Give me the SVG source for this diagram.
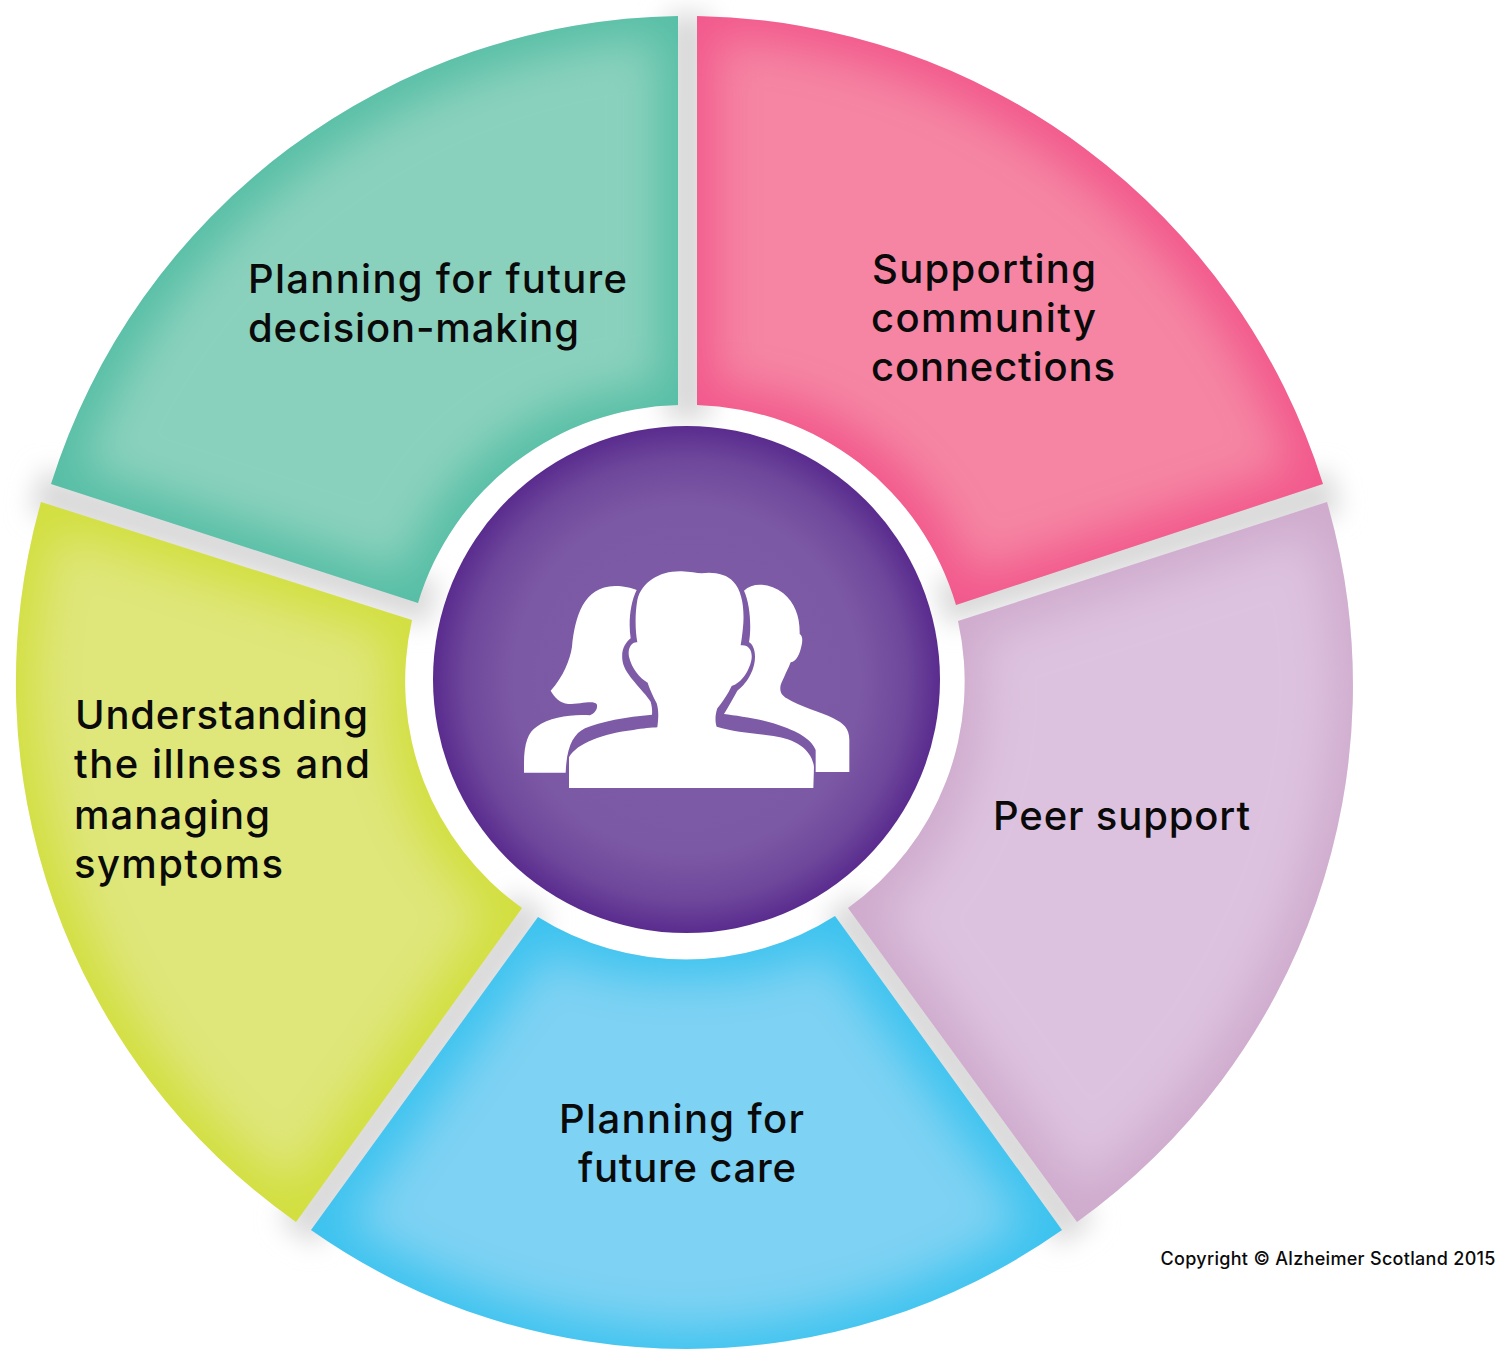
<svg xmlns="http://www.w3.org/2000/svg" width="1496" height="1350" viewBox="0 0 1496 1350">
<style>
.t{font-family:Inter,"Noto Sans","Liberation Sans",sans-serif;font-size:40px;font-weight:500;fill:#0a0a0a}
.c{font-family:Inter,"Noto Sans","Liberation Sans",sans-serif;font-size:18px;font-weight:500;fill:#0a0a0a}
.glow{filter:url(#inner)}
.gap{stroke:#d9d9d9;stroke-width:44;fill:none}
</style>
<defs>
<filter id="inner" filterUnits="userSpaceOnUse" x="0" y="0" width="1496" height="1350">
<feMorphology in="SourceGraphic" operator="erode" radius="18" result="e"/>
<feGaussianBlur in="e" stdDeviation="23" result="b"/>
<feComposite in="b" in2="SourceAlpha" operator="in"/>
</filter>
<filter id="soft" filterUnits="userSpaceOnUse" x="0" y="0" width="1496" height="1350">
<feGaussianBlur stdDeviation="13"/>
</filter>
<radialGradient id="hub" gradientUnits="userSpaceOnUse" cx="686.5" cy="679.5" r="254">
<stop offset="0" stop-color="#7E5CA6"/>
<stop offset="0.68" stop-color="#7C59A5"/>
<stop offset="0.87" stop-color="#6E479B"/>
<stop offset="1" stop-color="#592B8E"/>
</radialGradient>
<path id="s1" d="M678 16 L678 405 A278 278 0 0 0 418 603 L51 484 A668 668 0 0 1 678 16 Z"/>
<path id="s2" d="M697 16 A668 668 0 0 1 1323 484 L956 605 A278 278 0 0 0 697 405 Z"/>
<path id="s3" d="M1327 502 A660 660 0 0 1 1077 1222 L848 908 A278 278 0 0 0 958 621 Z"/>
<path id="s4" d="M1062 1230 A652 652 0 0 1 311 1230 L538 917 A278 278 0 0 0 835 916 Z"/>
<path id="s5" d="M296 1222 A660 660 0 0 1 41 502 L412 620 A278 278 0 0 0 522 908 Z"/>
</defs>
<rect width="1496" height="1350" fill="#fff"/>
<g id="connectors" filter="url(#soft)">
<path class="gap" d="M687.500 420 L687.500 14"/>
<path class="gap" d="M433 604 L36 491"/>
<path class="gap" d="M941 604 L1335 491"/>
<path class="gap" d="M532 905 L297 1233"/>
<path class="gap" d="M842 905 L1077 1233"/>
</g>
<g id="segment-decision-making">
<use href="#s1" fill="#56BEA5"/><use href="#s1" class="glow" fill="#8AD1BD"/>
<text class="t" x="248" y="293" textLength="379" lengthAdjust="spacing">Planning for future</text>
<text class="t" x="248" y="342" textLength="331" lengthAdjust="spacing">decision-making</text>
</g>
<g id="segment-community">
<use href="#s2" fill="#F2588C"/><use href="#s2" class="glow" fill="#F585A3"/>
<text class="t" x="872" y="283" textLength="224" lengthAdjust="spacing">Supporting</text>
<text class="t" x="871" y="332" textLength="225" lengthAdjust="spacing">community</text>
<text class="t" x="871" y="381" textLength="244" lengthAdjust="spacing">connections</text>
</g>
<g id="segment-peer">
<use href="#s3" fill="#CFABCD"/><use href="#s3" class="glow" fill="#DDC2DF"/>
<text class="t" x="993" y="830" textLength="257" lengthAdjust="spacing">Peer support</text>
</g>
<g id="segment-future-care">
<use href="#s4" fill="#3CC3EF"/><use href="#s4" class="glow" fill="#7ED2F3"/>
<text class="t" x="559" y="1133" textLength="245" lengthAdjust="spacing">Planning for</text>
<text class="t" x="578" y="1182" textLength="218" lengthAdjust="spacing">future care</text>
</g>
<g id="segment-understanding">
<use href="#s5" fill="#D2DF3E"/><use href="#s5" class="glow" fill="#DFE67A"/>
<text class="t" x="75" y="729" textLength="293" lengthAdjust="spacing">Understanding</text>
<text class="t" x="74" y="778" textLength="296" lengthAdjust="spacing">the illness and</text>
<text class="t" x="74" y="829" textLength="196" lengthAdjust="spacing">managing</text>
<text class="t" x="74" y="878" textLength="209" lengthAdjust="spacing">symptoms</text>
</g>
<g id="hub">
<circle cx="686.500" cy="679.500" r="253.500" fill="url(#hub)"/>
<g transform="translate(500 550) scale(.33333)" fill="#fff">
<path d="M152 422 C190 380 210 330 216 290 C225 200 250 110 345 108 C370 108 395 113 410 120 C390 160 385 220 392 265 C375 280 362 300 368 335 C375 375 430 420 452 455 C456 470 457 480 456 494 C380 500 300 515 255 535 C220 552 200 590 197 668 L72 668 L72 640 C72 580 85 545 110 530 C150 500 220 492 270 496 C285 490 295 475 290 462 C280 450 240 462 205 462 C180 460 162 440 152 422 Z"/>
<path d="M732 122 C760 95 810 100 850 130 C885 160 900 200 899 252 C908 258 908 270 905 285 C900 310 890 335 872 337 C865 355 850 385 842 405 C838 425 845 435 860 445 C900 470 960 485 1000 505 C1030 520 1048 535 1048 570 L1048 666 L947 666 L947 600 C930 560 880 540 820 520 C770 505 710 497 672 492 C685 470 700 445 712 422 C735 405 765 365 765 320 C765 295 755 280 747 277 C755 230 750 160 732 122 Z"/>
<path d="M207 714 L207 622 C230 580 310 550 400 540 C430 535 455 533 472 532 C476 500 476 480 470 460 C460 440 448 415 443 398 C420 385 395 355 387 320 C382 295 395 275 412 277 C405 240 405 190 412 150 C425 95 480 62 545 64 C570 65 590 70 605 70 C640 65 680 72 700 95 C725 120 733 170 730 220 C728 245 725 270 722 286 C745 283 757 300 755 325 C750 360 725 400 695 408 C685 430 665 460 652 475 C645 495 645 515 650 530 C700 545 760 550 820 558 C890 568 935 600 942 650 L940 714 Z"/>
</g>
</g>
<text id="copyright" class="c" x="1160.500" y="1265" textLength="335" lengthAdjust="spacing">Copyright © Alzheimer Scotland 2015</text>
</svg>
